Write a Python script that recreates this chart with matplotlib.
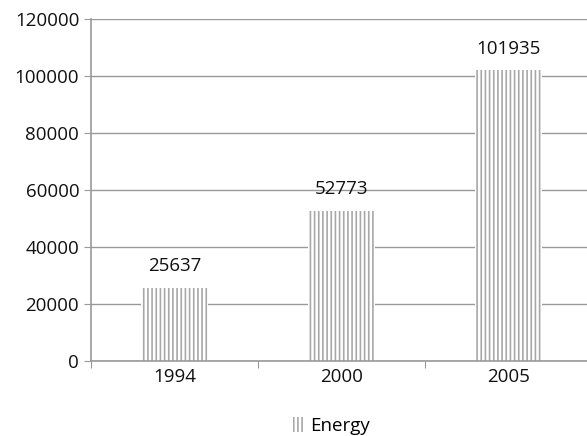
import matplotlib.pyplot as plt
import matplotlib as mpl

years = ["1994", "2000", "2005"]
energy = [25637, 52773, 101935]
y_ticks = [0, 20000, 40000, 60000, 80000, 100000, 120000]

mpl.rcParams["font.family"] = ["Open Sans", "DejaVu Sans"]
mpl.rcParams["hatch.linewidth"] = 1.2

fig = plt.figure(figsize=(5.87, 4.36), dpi=100)
ax = fig.add_axes([91 / 587, 75 / 436, 501 / 587, 342 / 436])

pos = list(range(len(years)))
bars = ax.bar(pos, energy, width=0.4, color="white", edgecolor="#a8a8a8",
              linewidth=0, hatch="||||", label="Energy", zorder=2)

for x, v in zip(pos, energy):
    ax.annotate(str(v), (x, v), xytext=(0, 9), textcoords="offset points",
                ha="center", va="bottom", fontsize=13.5, color="#111111")

ax.set_xlim(-0.5, len(years) - 0.5)
ax.set_ylim(0, 120000)
ax.set_yticks(y_ticks)
ax.tick_params(axis="y", labelsize=13.5, length=5, color="#999999", labelcolor="#111111")
ax.yaxis.grid(True, color="#999999", linewidth=1, zorder=0)

# category boundaries carry the tick marks, labels sit at the centres
ax.set_xticks([p - 0.5 for p in pos] + [len(years) - 0.5])
ax.set_xticklabels([])
ax.set_xticks(pos, minor=True)
ax.set_xticklabels(years, minor=True)
ax.tick_params(axis="x", which="major", length=5, color="#999999")
ax.tick_params(axis="x", which="minor", length=0, labelsize=13.5, labelcolor="#111111", pad=5)

for side in ["top", "right"]:
    ax.spines[side].set_visible(False)
for side in ["left", "bottom"]:
    ax.spines[side].set_color("#999999")
    ax.spines[side].set_linewidth(1.2)

fig.legend(handles=[bars], labels=["Energy"], loc="center", bbox_to_anchor=(0.565, 0.023),
           frameon=False, fontsize=13.5, handlelength=0.5, handleheight=0.8,
           handletextpad=0.4)

fig.savefig("out.png", dpi=100)
